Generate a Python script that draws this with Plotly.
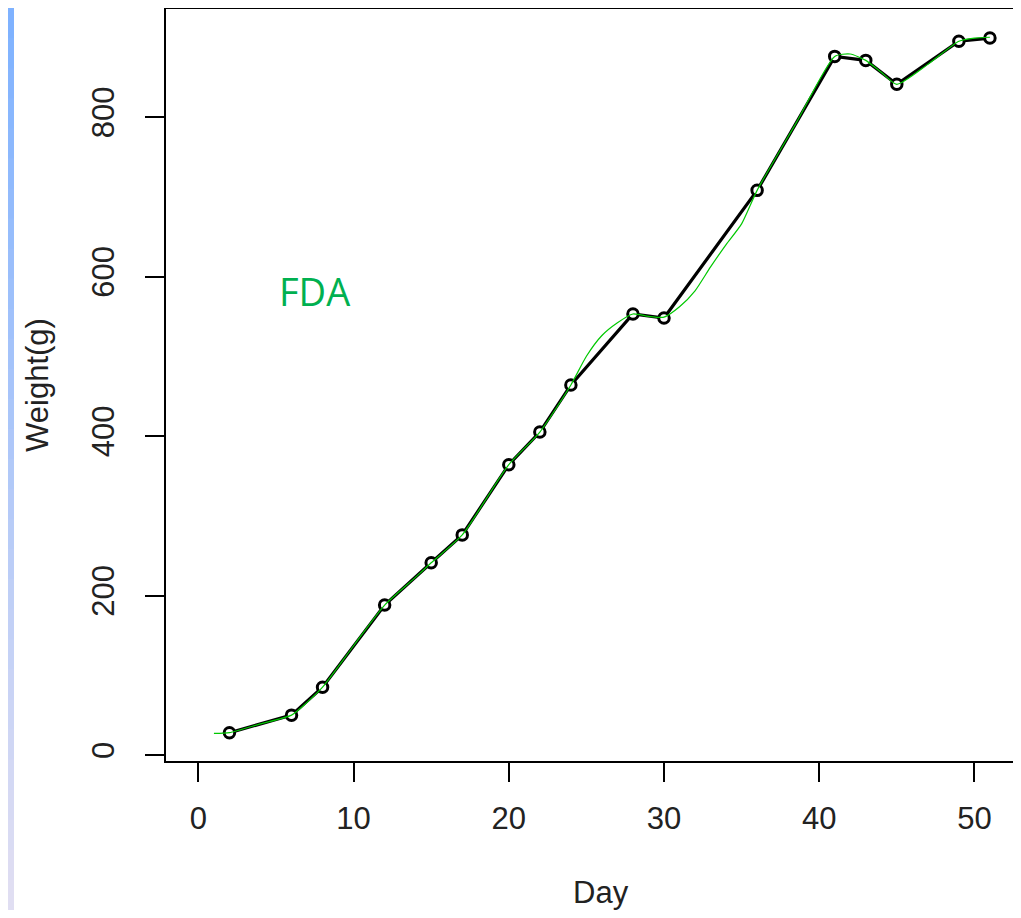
import plotly.graph_objects as go

# Observed data (Day, Weight g)
days = [2, 6, 8, 12, 15, 17, 20, 22, 24, 28, 30, 36, 41, 43, 45, 49, 51]
weights = [28, 50, 85, 188, 241, 276, 364, 405, 464, 553, 548, 708, 876, 871, 841, 895, 899]

# FDA smooth curve
fda_x = [1, 2, 4, 6, 7, 8, 10, 12, 14, 15, 17, 18.5, 20, 22, 24, 25, 26, 27, 28, 29, 30,
         31, 32, 33, 34, 35, 36, 38.5, 41, 42, 43, 44, 45, 47, 49, 50, 51]
fda_y = [27, 28, 39, 50, 66, 85, 137, 188, 223, 241, 276, 320, 364, 405, 464, 500, 526, 542, 553, 550, 549,
         562, 582, 612, 640, 666, 708, 792, 876, 879, 871, 856, 841, 866, 895, 899, 900]

x_ticks = [0, 10, 20, 30, 40, 50]
y_ticks = [0, 200, 400, 600, 800]

OFF = 8  # page body margin
W, H = 1005, 902
ML, MT, MR = 158, 1, 0
PLOT_BOTTOM = 761 - OFF
MB = H - PLOT_BOTTOM
PX_PER_X = 15.52
X0_PX = 198.4 - OFF
PX_PER_Y = 0.7975
Y0_PX = 755 - OFF
xr = [(ML - X0_PX) / PX_PER_X, (W - MR - X0_PX) / PX_PER_X]
yr = [(Y0_PX - PLOT_BOTTOM) / PX_PER_Y, (Y0_PX - MT) / PX_PER_Y]

fig = go.Figure()
fig.add_trace(go.Scatter(x=days, y=weights, mode="lines",
                         line=dict(color="black", width=3.2), hoverinfo="skip"))
fig.add_trace(go.Scatter(x=days, y=weights, mode="markers",
                         marker=dict(symbol="circle", size=10.5, color="white",
                                     line=dict(color="black", width=3)), hoverinfo="skip"))
fig.add_trace(go.Scatter(x=fda_x, y=fda_y, mode="lines",
                         line=dict(color="#00C800", width=1.2, shape="spline", smoothing=0.6),
                         hoverinfo="skip"))

fig.add_annotation(x=7.45, y=582, xref="x", yref="y", text="FDA", showarrow=False,
                   font=dict(family="Open Sans", size=38, color="#00B050"),
                   xanchor="center", yanchor="middle")

axis_font = dict(family="Liberation Sans, Arial", size=31, color="#222222")

# x-axis title placed as in the original (centred on the full, wider R plot region)
fig.add_annotation(x=(601 - OFF - ML) / (W - ML - MR), y=0, xref="paper", yref="paper",
                   text="Day", showarrow=False, font=axis_font,
                   xanchor="center", yanchor="middle", yshift=-131)

# left slide gradient strip
n = 30
top = (127, 178, 255)
bot = (224, 222, 242)
ph = H - MT - MB
pw = W - ML - MR
for i in range(n):
    t = i / (n - 1)
    c = tuple(int(round(top[k] + (bot[k] - top[k]) * t)) for k in range(3))
    y1 = 1 + MT / ph - i * (H / ph) / n
    y0 = y1 - (H / ph) / n - 0.002
    fig.add_shape(type="rect", xref="paper", yref="paper",
                  x0=-ML / pw, x1=-(ML - 6) / pw,
                  y0=y0, y1=y1, line=dict(width=0), fillcolor="rgb(%d,%d,%d)" % c, layer="below")

fig.update_layout(
    width=W, height=H,
    margin=dict(l=ML, r=MR, t=MT, b=MB, pad=0),
    paper_bgcolor="white", plot_bgcolor="white",
    showlegend=False,
    xaxis=dict(range=xr, tickvals=x_ticks, ticktext=[str(v) for v in x_ticks],
               showgrid=False, zeroline=False, showline=True, linecolor="black", linewidth=2,
               mirror=True, ticks="outside", ticklen=19, tickwidth=2, tickcolor="black",
               tickfont=axis_font, ticklabelstandoff=10),
    yaxis=dict(range=yr, tickvals=y_ticks, ticktext=[str(v) for v in y_ticks],
               showgrid=False, zeroline=False, showline=True, linecolor="black", linewidth=2,
               mirror=False, ticks="outside", ticklen=19, tickwidth=2, tickcolor="black",
               tickfont=axis_font, tickangle=-90, ticklabelstandoff=19,
               title=dict(text="Weight(g)", font=axis_font, standoff=28)),
)

fig.write_html("out.html")
